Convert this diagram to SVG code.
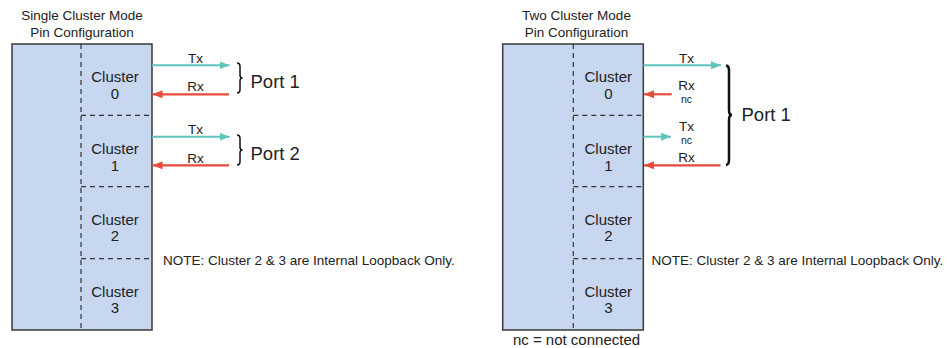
<svg xmlns="http://www.w3.org/2000/svg" width="950" height="348" viewBox="0 0 950 348">
<style>
text{font-family:"Liberation Sans",Arial,sans-serif;fill:#222}
.title{font-size:13.5px;text-anchor:middle}
.cl{font-size:15px;text-anchor:middle}
.lbl{font-size:13.5px;text-anchor:middle}
.nc{font-size:10.5px;text-anchor:middle}
.port{font-size:18.5px}
.note{font-size:13.5px}
.box{fill:#c6d7ef;stroke:#3a3a3a;stroke-width:1.5}
.dash{fill:none;stroke:#333;stroke-width:1.2;stroke-dasharray:5 4}
.tx{stroke:#5fc4bb;stroke-width:2;fill:none;marker-end:url(#ahT)}
.rx{stroke:#e84a3c;stroke-width:2.2;fill:none;marker-end:url(#ahR)}
.brace{fill:none;stroke:#111;stroke-width:1.5}
.brace2{fill:none;stroke:#111;stroke-width:2.5}
</style>
<defs>
<marker id="ahT" markerUnits="userSpaceOnUse" markerWidth="12" markerHeight="10" refX="10" refY="4" orient="auto"><path d="M0,0 L10,4 L0,8 Z" fill="#5fc4bb"/></marker>
<marker id="ahR" markerUnits="userSpaceOnUse" markerWidth="12" markerHeight="10" refX="10" refY="4" orient="auto"><path d="M0,0 L10,4 L0,8 Z" fill="#e84a3c"/></marker>
</defs>

<g id="single-mode">
<text class="title" x="82" y="20">Single Cluster Mode</text>
<text class="title" x="82" y="37">Pin Configuration</text>
<rect class="box" x="12" y="44" width="140" height="286"/>
<path class="dash" d="M81,44 V330 M81,115.3 H152 M81,186.7 H152 M81,258.7 H152"/>
</g>
<g id="s-cluster0"><text class="cl" x="115" y="82">Cluster</text><text class="cl" x="115" y="99">0</text></g>
<g id="s-cluster1"><text class="cl" x="115" y="153.7">Cluster</text><text class="cl" x="115" y="170.5">1</text></g>
<g id="s-cluster2"><text class="cl" x="115" y="225.3">Cluster</text><text class="cl" x="115" y="241">2</text></g>
<g id="s-cluster3"><text class="cl" x="115" y="297.3">Cluster</text><text class="cl" x="115" y="313">3</text></g>

<g id="two-mode">
<text class="title" x="576.5" y="20">Two Cluster Mode</text>
<text class="title" x="576.5" y="37">Pin Configuration</text>
<rect class="box" x="502.7" y="44" width="140.6" height="286"/>
<path class="dash" d="M573.3,44 V330 M573.3,115.3 H643.3 M573.3,186.7 H643.3 M573.3,258.7 H643.3"/>
</g>
<g id="t-cluster0"><text class="cl" x="608.3" y="82">Cluster</text><text class="cl" x="608.3" y="99">0</text></g>
<g id="t-cluster1"><text class="cl" x="608.3" y="153.7">Cluster</text><text class="cl" x="608.3" y="170.5">1</text></g>
<g id="t-cluster2"><text class="cl" x="608.3" y="225.3">Cluster</text><text class="cl" x="608.3" y="241">2</text></g>
<g id="t-cluster3"><text class="cl" x="608.3" y="297.3">Cluster</text><text class="cl" x="608.3" y="313">3</text></g>

<g id="connectors">
<path class="tx" d="M152,65.3 H229.5"/>
<path class="rx" d="M229,94.3 H152.5"/>
<path class="tx" d="M152,136.7 H229.5"/>
<path class="rx" d="M229,165.3 H152.5"/>
<path class="tx" d="M643.3,65.3 H721"/>
<path class="rx" d="M671.7,94.3 H644"/>
<path class="tx" d="M643.3,136.7 H671"/>
<path class="rx" d="M720.5,165.3 H644"/>
</g>

<g id="labels">
<text class="lbl" x="195.5" y="62.5">Tx</text>
<text class="lbl" x="195.5" y="91">Rx</text>
<text class="lbl" x="195.5" y="134">Tx</text>
<text class="lbl" x="195.5" y="162.5">Rx</text>
<text class="lbl" x="686.5" y="62.5">Tx</text>
<text class="lbl" x="686.5" y="89.5">Rx</text>
<text class="nc" x="686.5" y="102.5">nc</text>
<text class="lbl" x="686.5" y="130.5">Tx</text>
<text class="nc" x="686.5" y="143.5">nc</text>
<text class="lbl" x="686.5" y="161.5">Rx</text>
</g>

<g id="port1-single">
<path class="brace" d="M237,63 Q240,63 240,66.5 L240,75 Q240,78 242.5,78 Q240,78 240,81 L240,89.5 Q240,93 237,93"/>
<text class="port" x="250.5" y="88">Port 1</text>
</g>
<g id="port2-single">
<path class="brace" d="M237,135 Q240,135 240,138.5 L240,147 Q240,150 242.5,150 Q240,150 240,153 L240,161.5 Q240,165 237,165"/>
<text class="port" x="250.5" y="160">Port 2</text>
</g>
<g id="port1-two">
<path class="brace2" d="M726,65.5 Q729,66 729,70 L729,110 Q729,115 732,115 Q729,115 729,120 L729,160 Q729,164.5 726,165"/>
<text class="port" x="741.5" y="121">Port 1</text>
</g>

<g id="notes">
<text class="note" x="163" y="265">NOTE: Cluster 2 &amp; 3 are Internal Loopback Only.</text>
<text class="note" x="651.5" y="265">NOTE: Cluster 2 &amp; 3 are Internal Loopback Only.</text>
<text class="cl" x="576.5" y="345">nc = not connected</text>
</g>
</svg>
